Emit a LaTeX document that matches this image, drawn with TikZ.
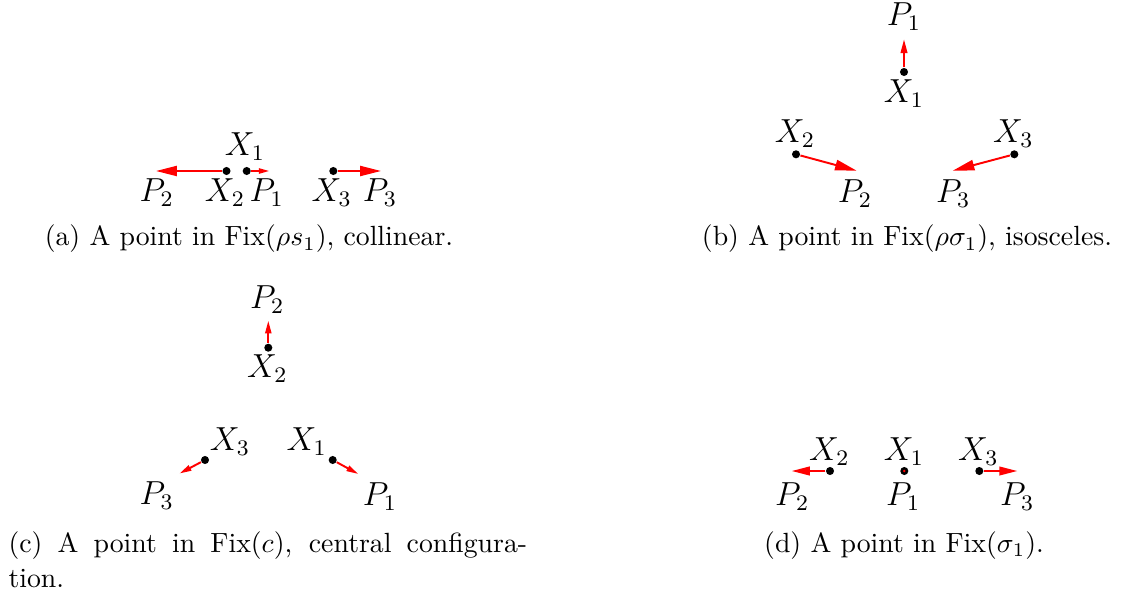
\documentclass[tikz,border=0pt]{standalone}
\usetikzlibrary{arrows.meta}
\tikzset{
  dot/.style={circle, fill=black, inner sep=0pt, minimum size=2.9pt},
  lab/.style={font=\large, inner sep=0pt},
  captext/.style={font=\normalsize, inner sep=0pt},
  vec/.style={red, line width=0.7pt, -{Triangle[length=#1pt, width=0.48*#1pt]}}
}
\begin{document}
\begin{tikzpicture}[x=0.36pt, y=-0.36pt]
\useasboundingbox (0,0) rectangle (1127,601);
% ---------- (a)
\node[dot] (a2) at (226.5,171) {};
\node[dot] (a1) at (246.7,171) {};
\node[dot] (a3) at (333.3,171) {};
\coordinate (ta2) at (156,171);
\coordinate (ta1) at (269.5,171);
\coordinate (ta3) at (381,171);
\draw[vec=7.5] (a2) -- (ta2);
\draw[vec=3.8] (a1) -- (ta1);
\draw[vec=7.5] (a3) -- (ta3);
\node[lab] (la1) at (245,146.7) {$X_1$};
\node[lab] (lp2) at (156.7,192.5) {$P_2$};
\node[lab] (la2) at (225,192.5) {$X_2$};
\node[lab] (lp1) at (266.7,192.5) {$P_1$};
\node[lab] (la3) at (331.7,192.5) {$X_3$};
\node[lab] (lp3) at (380,192.5) {$P_3$};
\node[captext, anchor=base] (capa) at (249,246) {(a) A point in Fix($\rho s_1$), collinear.};
% ---------- (b)
\node[dot] (b1) at (904,72) {};
\node[dot] (b2) at (796,154.3) {};
\node[dot] (b3) at (1014.3,154.3) {};
\coordinate (tb1) at (904,39.3);
\coordinate (tb2) at (856.7,170.7);
\coordinate (tb3) at (952.7,170.7);
\draw[vec=5] (b1) -- (tb1);
\draw[vec=7.8] (b2) -- (tb2);
\draw[vec=7.8] (b3) -- (tb3);
\node[lab] (lbp1) at (904,16.7) {$P_1$};
\node[lab] (lbx1) at (904,93.3) {$X_1$};
\node[lab] (lbx2) at (795,133.3) {$X_2$};
\node[lab] (lbp2) at (855,193.3) {$P_2$};
\node[lab] (lbx3) at (1013.3,133.3) {$X_3$};
\node[lab] (lbp3) at (953.3,193.3) {$P_3$};
\node[captext, anchor=base] (capb) at (907,246) {(b) A point in Fix($\rho\sigma_1$), isosceles.};
% ---------- (c)
\node[dot] (c2) at (268.3,347.7) {};
\node[dot] (c3) at (205,460) {};
\node[dot] (c1) at (332.7,460) {};
\coordinate (tc2) at (268.3,320.7);
\coordinate (tc3) at (179.5,473.5);
\coordinate (tc1) at (358.3,474);
\draw[vec=4.6] (c2) -- (tc2);
\draw[vec=4.3] (c3) -- (tc3);
\draw[vec=4.3] (c1) -- (tc1);
\node[lab] (lcp2) at (267.3,300) {$P_2$};
\node[lab] (lcx2) at (267.3,368.3) {$X_2$};
\node[lab] (lcx3) at (230,441.7) {$X_3$};
\node[lab] (lcp3) at (156.7,496) {$P_3$};
\node[lab] (lcx1) at (306.7,441.7) {$X_1$};
\node[lab] (lcp1) at (380,496.7) {$P_1$};
\node[captext, anchor=base west] (capc) at (8,552) {\makebox[186.7pt][s]{(c) A point in Fix($c$), central configura-}};
\node[captext, anchor=base west] (capc2) at (8,587) {tion.};
% ---------- (d)
\node[dot] (d2) at (830,471) {};
\node[dot] (d1) at (904.3,471) {};
\node[dot] (d3) at (979.3,471) {};
\coordinate (td2) at (791.7,471);
\coordinate (td3) at (1017.3,471);
\draw[vec=6.5] (d2) -- (td2);
\draw[vec=6.5] (d3) -- (td3);
\fill[red] (d1) circle (1.4);
\node[lab] (ldx2) at (829.3,451.7) {$X_2$};
\node[lab] (ldp2) at (792.3,496.7) {$P_2$};
\node[lab] (ldx1) at (904,451.7) {$X_1$};
\node[lab] (ldp1) at (903.3,496.7) {$P_1$};
\node[lab] (ldx3) at (978.3,451.7) {$X_3$};
\node[lab] (ldp3) at (1017.3,496.7) {$P_3$};
\node[captext, anchor=base] (capd) at (904,552) {(d) A point in Fix($\sigma_1$).};
\end{tikzpicture}
\end{document}
